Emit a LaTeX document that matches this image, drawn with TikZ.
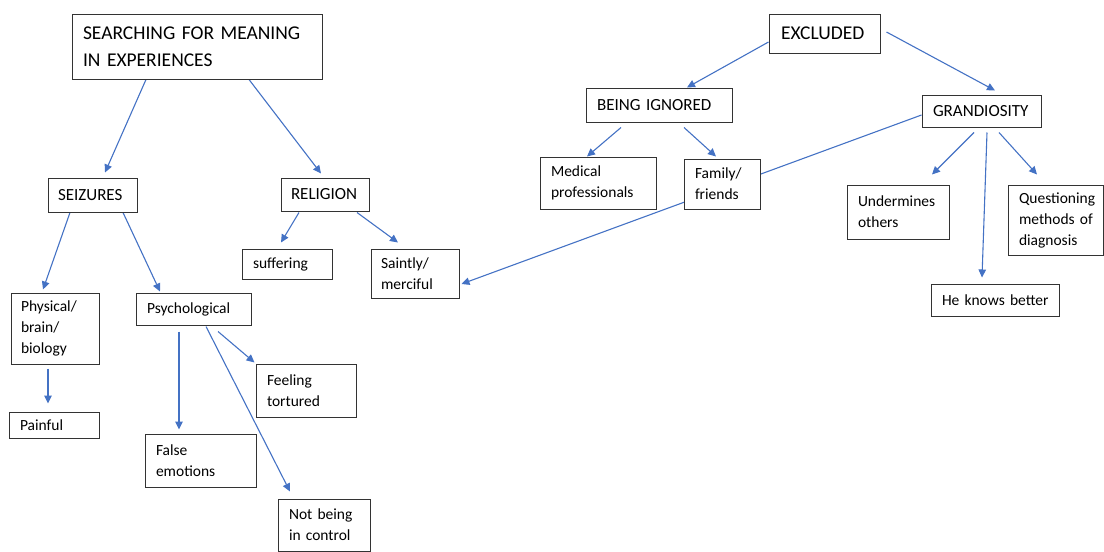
\documentclass[tikz,border=0pt]{standalone}
\usepackage{fontspec}
\setmainfont{Carlito}
\usetikzlibrary{arrows.meta,calc,backgrounds}
\definecolor{linkblue}{HTML}{4472C4}
\definecolor{boxline}{HTML}{333333}
\hyphenpenalty=10000
\exhyphenpenalty=10000
\begin{document}
\begin{tikzpicture}[x=1pt,y=-1pt,
  card/.style={draw=boxline, line width=1pt, fill=white, rectangle,
               inner xsep=0pt, inner ysep=0pt, align=left, anchor=center},
  big/.style={font=\fontsize{19.5}{27}\selectfont},
  mid/.style={font=\fontsize{17}{22}\selectfont},
  small/.style={font=\fontsize{15.5}{21}\selectfont},
  link/.style={draw=linkblue, line width=1.1pt, -{Triangle[length=8pt,width=7.5pt]}},
]
\useasboundingbox (0,0) rectangle (1104,552);

% left tree
\node[card,big,minimum width=250pt,minimum height=65pt,text width=228pt] (search) at (197,46.5)
  {SEARCHING FOR MEANING\\IN~EXPERIENCES};
\node[card,mid,minimum width=89pt,minimum height=34pt,text width=69pt] (seiz) at (92.5,195) {SEIZURES};
\node[card,mid,minimum width=88pt,minimum height=33pt,text width=68pt] (relig) at (325,194.5) {RELIGION};
\node[card,small,minimum width=88pt,minimum height=71pt,text width=68pt] (phys) at (55,328.5)
  {Physical/\\brain/\\biology};
\node[card,small,minimum width=90pt,minimum height=26pt,text width=68pt] (pain) at (54,425) {Painful};
\node[card,small,minimum width=115pt,minimum height=32pt,text width=93pt] (psych) at (193.5,309) {Psychological};
\node[card,small,minimum width=100pt,minimum height=53pt,text width=78pt] (feel) at (306,390.5)
  {Feeling\\tortured};
\node[card,small,minimum width=111pt,minimum height=53pt,text width=89pt] (false) at (200.5,460.5)
  {False\\emotions};
\node[card,small,minimum width=92pt,minimum height=52pt,text width=70pt] (notb) at (324,525)
  {Not~being\\in~control};
\node[card,small,minimum width=90pt,minimum height=30pt,text width=68pt] (suff) at (287,264) {suffering};
\node[card,small,minimum width=88pt,minimum height=49pt,text width=68pt] (saint) at (415,273.5)
  {Saintly/\\merciful};

% right tree
\node[card,big,minimum width=111pt,minimum height=39pt,text width=87pt] (excl) at (824.5,33.5) {EXCLUDED};
\node[card,mid,minimum width=146pt,minimum height=34pt,text width=124pt] (being) at (659,105) {BEING~IGNORED};
\node[card,mid,minimum width=119pt,minimum height=32pt,text width=97pt] (grand) at (981.5,111) {GRANDIOSITY};
\node[card,small,minimum width=116pt,minimum height=52pt,text width=94pt] (medic) at (598,183)
  {Medical\\professionals};
\node[card,small,minimum width=76pt,minimum height=50pt,text width=54pt] (family) at (722,184)
  {Family/\\friends};
\node[card,small,minimum width=102pt,minimum height=54pt,text width=80pt] (under) at (898,212)
  {Undermines\\others};
\node[card,small,minimum width=95pt,minimum height=70pt,text width=73pt] (quest) at (1055.5,220)
  {Questioning\\methods~of\\diagnosis};
\node[card,small,minimum width=128pt,minimum height=32pt,text width=106pt] (knows) at (995,300)
  {He~knows~better};

% connectors, kept behind the boxes
\begin{scope}[on background layer]
  \draw[link] ($(search.south)+(-51,0)$) -- ($(seiz.north)+(12.5,-5)$);
  \draw[link] ($(search.south)+(52,0)$) -- ($(relig.north)+(-4,-4)$);
  \draw[link] ($(seiz.south)+(-22.5,0)$) -- ($(phys.north)+(-12,-3)$);
  \draw[link] ($(seiz.south)+(30.5,0)$) -- ($(psych.north)+(-33.5,-1)$);
  \draw[link] ($(phys.south)+(-7,4)$) -- ($(pain.north)+(-6,-8)$);
  \draw[link] ($(relig.south)+(-26,1)$) -- ($(suff.north)+(-6,-6)$);
  \draw[link] ($(relig.south)+(32,1)$) -- ($(saint.north)+(-17,-6)$);
  \draw[link] ($(psych.south)+(-14.5,6)$) -- ($(false.north)+(-21.5,-4)$);
  \draw[link] ($(psych.south)+(24.5,6)$) -- ($(feel.north west)+(-1,-1)$);
  \draw[link] ($(psych.south)+(12.5,1)$) -- ($(notb.north)+(-34,-7)$);
  \draw[link] ($(excl.west)+(0,8.5)$) -- ($(being.north)+(28,0)$);
  \draw[link] ($(excl.east)+(6,-1.5)$) -- ($(grand.north)+(13.5,-4)$);
  \draw[link] ($(being.south)+(-38,5)$) -- ($(medic.north)+(-11,0)$);
  \draw[link] ($(being.south)+(25,5)$) -- ($(family.north)+(-6,-2)$);
  \draw[link] ($(grand.west)+(0,4)$) -- ($(saint.east)+(2,10.5)$);
  \draw[link] ($(grand.south)+(-7.5,5)$) -- ($(under.north)+(34,-10)$);
  \draw[link] ($(grand.south)+(5.5,5)$) -- ($(knows.north)+(-13,-6)$);
  \draw[link] ($(grand.south)+(17.5,5)$) -- ($(quest.north)+(-18.5,-10)$);
\end{scope}
\end{tikzpicture}
\end{document}
